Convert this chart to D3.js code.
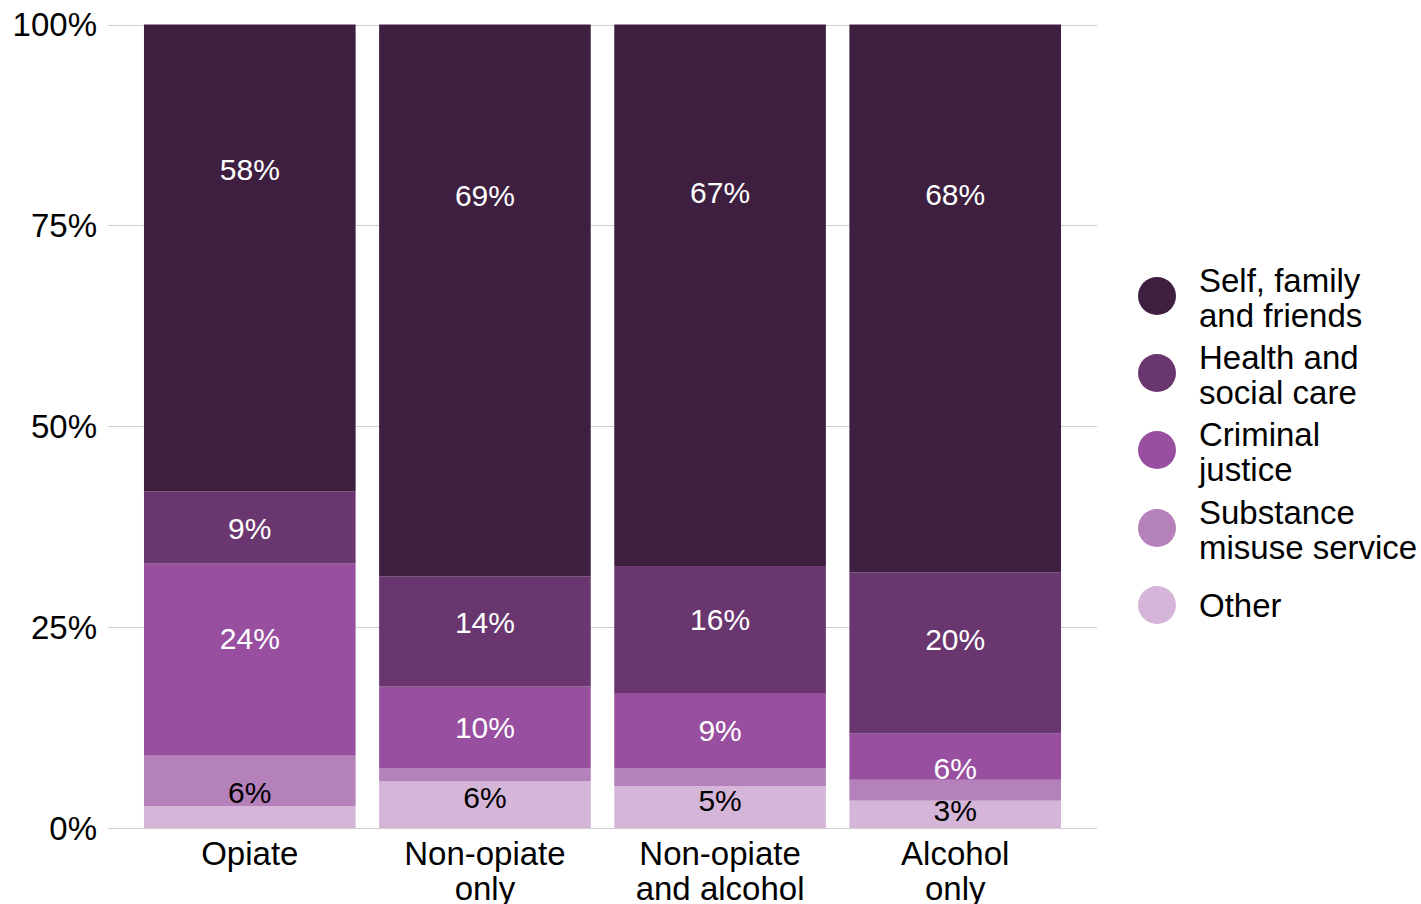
<!DOCTYPE html>
<html>
<head>
<meta charset="utf-8">
<script src="https://cdn.jsdelivr.net/npm/d3@7"></script>
<style>
  html, body { margin: 0; padding: 0; background: #ffffff; }
  svg { display: block; font-family: "Liberation Sans", Arial, sans-serif; }
</style>
</head>
<body>
<svg id="chart" width="1421" height="904"></svg>
<script>
// Referral source shares (%) by substance group
const categories = ["Opiate", "Non-opiate only", "Non-opiate and alcohol", "Alcohol only"];
const categoryLines = [["Opiate"], ["Non-opiate", "only"], ["Non-opiate", "and alcohol"], ["Alcohol", "only"]];
const seriesNames = ["Self, family and friends", "Health and social care", "Criminal justice", "Substance misuse service", "Other"];
const legendLines = [["Self, family", "and friends"], ["Health and", "social care"], ["Criminal", "justice"], ["Substance", "misuse service"], ["Other"]];
const selfFamilyFriends = [58.1, 68.7, 67.4, 68.2];
const healthSocialCare  = [9.0, 13.7, 15.8, 20.0];
const criminalJustice   = [23.9, 10.2, 9.4, 5.8];
const substanceMisuse   = [6.3, 1.6, 2.2, 2.6];
const other             = [2.7, 5.8, 5.2, 3.4];
const yTicks = [0, 25, 50, 75, 100];
const colors = ["#3e1f40", "#6a3670", "#984f9f", "#b581bb", "#d5b5d8"];
const labelColors = ["#ffffff", "#ffffff", "#ffffff", "#000000", "#000000"];

const seriesValues = [selfFamilyFriends, healthSocialCare, criminalJustice, substanceMisuse, other];
const rows = categories.map((c, i) => {
  const r = { category: c };
  seriesNames.forEach((s, j) => { r[s] = seriesValues[j][i]; });
  return r;
});

// Stack from the bottom: Other first, Self/family/friends on top
const stackOrder = seriesNames.slice().reverse();
const stacked = d3.stack().keys(stackOrder)(rows);

const svg = d3.select("#chart");
const plot = { left: 108, right: 1097, top: 24.5, bottom: 828 };

const x = d3.scaleBand().domain(categories).range([plot.left, plot.right])
  .paddingInner(0.1).paddingOuter(0.153);
const y = d3.scaleLinear().domain([0, 100]).range([plot.bottom, plot.top]);

// gridlines
svg.append("g").selectAll("line").data(yTicks).join("line")
  .attr("x1", plot.left).attr("x2", plot.right)
  .attr("y1", d => Math.round(y(d)) + 0.5).attr("y2", d => Math.round(y(d)) + 0.5)
  .attr("stroke", "#cfcfcf").attr("stroke-width", 1);

// y tick labels
svg.append("g").selectAll("text").data(yTicks).join("text")
  .attr("x", 97).attr("y", d => y(d))
  .attr("text-anchor", "end").attr("dominant-baseline", "central")
  .attr("font-size", 33).attr("fill", "#000")
  .text(d => d + "%");

// bars
const layers = svg.append("g").selectAll("g").data(stacked).join("g")
  .attr("fill", d => colors[seriesNames.indexOf(d.key)]);
layers.selectAll("rect").data(d => d).join("rect")
  .attr("x", d => x(d.data.category))
  .attr("width", x.bandwidth())
  .attr("y", d => y(d[1]))
  .attr("height", d => y(d[0]) - y(d[1]));

// value labels (segments of at least 3%); placed down from the segment top
const labelDrop = [
  h => h * 0.31,
  h => Math.max(37, h * 0.42),
  h => Math.max(35, Math.min(h * 0.5, 75)),
  h => h * 0.72,
  h => h * 0.35
];
const labelG = svg.append("g");
stacked.forEach(layer => {
  const si = seriesNames.indexOf(layer.key);
  layer.forEach(d => {
    const v = d[1] - d[0];
    if (v < 3) return;
    const top = y(d[1]);
    const h = y(d[0]) - top;
    labelG.append("text")
      .attr("x", x(d.data.category) + x.bandwidth() / 2)
      .attr("y", top + labelDrop[si](h))
      .attr("text-anchor", "middle").attr("dominant-baseline", "central")
      .attr("font-size", 30).attr("fill", labelColors[si])
      .text(Math.round(v) + "%");
  });
});

// category labels
const catG = svg.append("g");
categories.forEach((c, i) => {
  const t = catG.append("text")
    .attr("x", x(c) + x.bandwidth() / 2).attr("y", 853)
    .attr("text-anchor", "middle").attr("font-size", 33).attr("fill", "#000");
  categoryLines[i].forEach((ln, k) => {
    t.append("tspan").attr("x", x(c) + x.bandwidth() / 2)
      .attr("y", 853 + k * 35).attr("dominant-baseline", "central").text(ln);
  });
});

// legend
const legendY = [296, 373, 450, 528, 605];
const leg = svg.append("g");
seriesNames.forEach((s, i) => {
  leg.append("circle").attr("cx", 1157).attr("cy", legendY[i]).attr("r", 19).attr("fill", colors[i]);
  const lines = legendLines[i];
  const t = leg.append("text").attr("font-size", 33).attr("fill", "#000");
  lines.forEach((ln, k) => {
    const off = lines.length === 1 ? 0 : (k === 0 ? -15.5 : 19.5);
    t.append("tspan").attr("x", 1199).attr("y", legendY[i] + off)
      .attr("dominant-baseline", "central").text(ln);
  });
});
</script>
</body>
</html>
